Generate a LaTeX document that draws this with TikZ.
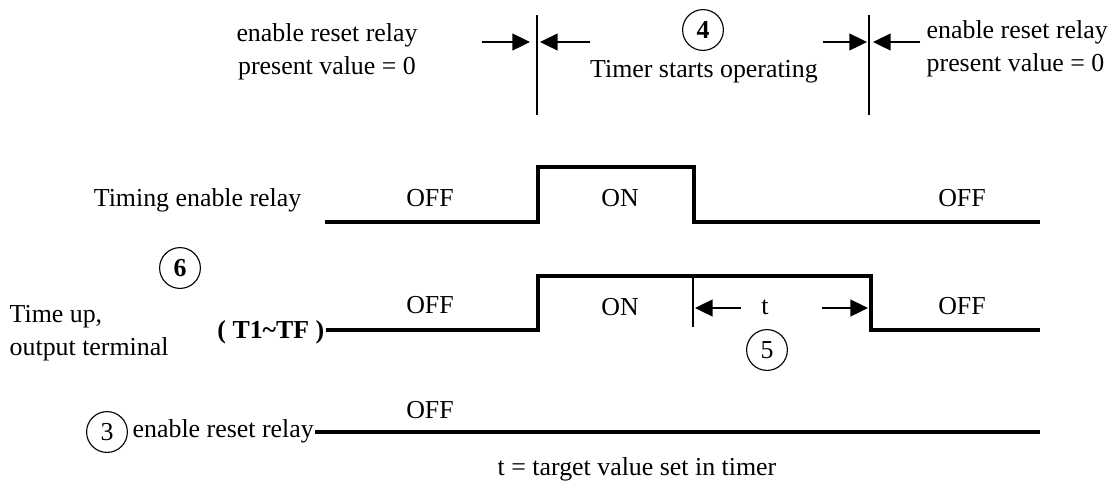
\documentclass[tikz,border=0pt]{standalone}
\usepackage{fontspec}
\setmainfont{Liberation Serif}
\usetikzlibrary{arrows.meta}
\tikzset{
  signal/.style={line width=2.2pt, line join=miter},
  marker/.style={line width=0.9pt},
  dimarrow/.style={line width=0.9pt, -{Triangle[length=12.5pt, width=12pt]}},
  numcircle/.style={circle, draw, line width=0.8pt, minimum size=1.02cm, inner sep=0pt},
  lbl/.style={inner sep=1pt}
}
\begin{document}
\fontsize{18.4}{23.4}\selectfont
\begin{tikzpicture}[x=0.025cm, y=-0.025cm]
  \useasboundingbox (0,0) rectangle (1117,483);
  % Top: reset / start markers
  \node[lbl, align=center] (resetL) at (327,52) {enable reset relay\\present value = 0};
  \node[lbl, align=left, anchor=west] (resetR) at (925,49) {enable reset relay\\present value = 0};
  \node[numcircle, font=\bfseries] (c4) at (703,30) {4};
  \node[lbl] (start) at (704,72) {Timer starts operating};
  \coordinate (m1top) at (537,15);  \coordinate (m1bot) at (537,115);
  \coordinate (m2top) at (869,15);  \coordinate (m2bot) at (869,115);
  \draw[marker] (m1top) -- (m1bot);
  \draw[marker] (m2top) -- (m2bot);
  \coordinate (a1s) at (482,42);  \coordinate (a1e) at (530,42);
  \coordinate (a2s) at (590,42);  \coordinate (a2e) at (540,42);
  \coordinate (a3s) at (823,42);  \coordinate (a3e) at (867,42);
  \coordinate (a4s) at (920,42);  \coordinate (a4e) at (873,42);
  \foreach \s/\e in {a1s/a1e, a2s/a2e, a3s/a3e, a4s/a4e}
    \draw[dimarrow] (\s) -- (\e);
  % Left-hand signal names
  \node[lbl, anchor=east] (enable) at (303,200) {Timing enable relay};
  \node[numcircle, font=\bfseries] (c6) at (180,268) {6};
  \node[lbl, align=left, anchor=west] (timeup) at (8,333) {Time up,\\output terminal};
  \node[lbl, anchor=east, font=\bfseries] (term) at (326,332) {( T1\char`~TF )};
  \node[numcircle] (c3) at (107,432) {3};
  \node[lbl, anchor=west] (reset) at (131,431) {enable reset relay};
  % Timing enable relay
  \draw[signal] (325,222) coordinate (e0) -- (538,222) -- (538,167) -- (694,167)
    -- (694,222) -- (1040,222) coordinate (e1);
  % Time up, output terminal
  \draw[signal] (term.east |- 0,330) coordinate (o0) -- (538,330) -- (538,276)
    -- (871,276) coordinate (ofall) -- (871,330) -- (1040,330) coordinate (o1);
  % Enable reset relay
  \draw[signal] (reset.east |- 0,432) -- (1040,432);
  % State labels
  \foreach \px/\py/\st in {430/198/OFF, 620/198/ON, 962/198/OFF,
                           430/305/OFF, 620/307/ON, 962/306/OFF, 430/410/OFF}
    \node[lbl] at (\px,\py) {\st};
  % Set value t
  \coordinate (ttop) at (693,276);  \coordinate (tbot) at (693,327);
  \draw[marker] (ttop) -- (tbot);
  \node[lbl] (tval) at (765,307) {t};
  \coordinate (t1s) at (741,308);  \coordinate (t1e) at (695,308);
  \coordinate (t2s) at (822,308);  \coordinate (t2e) at (868,308);
  \draw[dimarrow] (t1s) -- (t1e);
  \draw[dimarrow] (t2s) -- (t2e);
  \node[numcircle] (c5) at (767,350) {5};
  \node[lbl] (note) at (637,469) {t = target value set in timer};
\end{tikzpicture}
\end{document}
